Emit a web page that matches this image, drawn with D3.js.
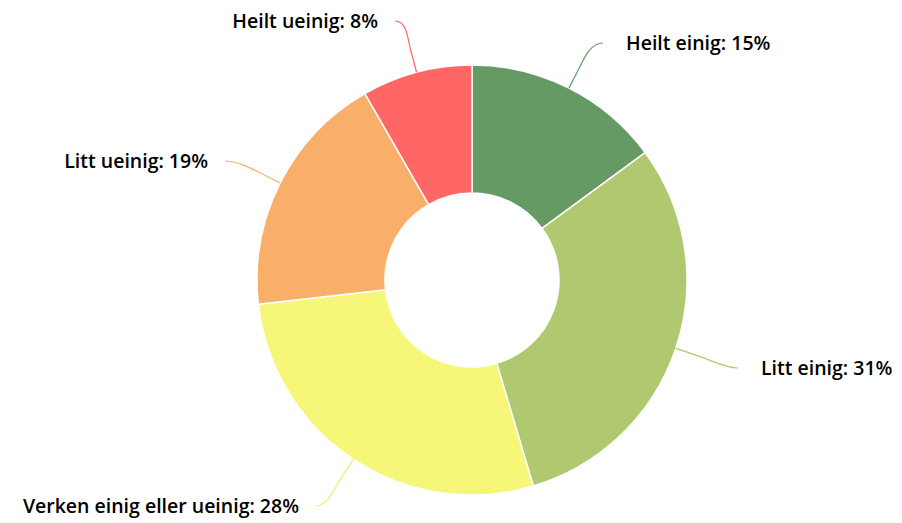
<!DOCTYPE html>
<html><head><meta charset="utf-8">
<script src="https://cdn.jsdelivr.net/npm/d3@7"></script>
<style>html,body{margin:0;padding:0;background:#fff;}svg{display:block;}</style>
</head><body><div id="chart"></div>
<script>
const categories = ["Heilt einig", "Litt einig", "Verken einig eller ueinig", "Litt ueinig", "Heilt ueinig"];
// estimated underlying shares (labels show rounded percentages)
const values = [14.9, 30.5, 27.8, 18.5, 8.3];
const colors = ["#659a65", "#b0c970", "#f6f779", "#f9ae6a", "#ff6666"];
// label anchor positions (connector end) and alignment
const labelSide = ["left", "left", "right", "right", "right"];
const labelPos = [[603, 43], [738, 368], [316, 506], [225, 161], [395, 21]];

const W = 902, H = 523, cx = 472, cy = 280, R = 215, r0 = 87;
const svg = d3.select("#chart").append("svg").attr("width", W).attr("height", H);
const g = svg.append("g").attr("transform", `translate(${cx},${cy})`);
const pie = d3.pie().sort(null).value(d => d)(values);
const arc = d3.arc().innerRadius(r0).outerRadius(R);

g.selectAll("path.slice").data(pie).join("path")
  .attr("class", "slice")
  .attr("d", arc)
  .attr("fill", (d, i) => colors[i])
  .attr("stroke", "#fff").attr("stroke-width", 1.5).attr("stroke-linejoin", "round");

// connectors
pie.forEach((d, i) => {
  const a = (d.startAngle + d.endAngle) / 2;
  const ex = cx + R * Math.sin(a), ey = cy - R * Math.cos(a);
  const [lx, ly] = labelPos[i];
  const mx = cx + (R + 22) * Math.sin(a), my = cy - (R + 22) * Math.cos(a);
  const dir = labelSide[i] === "left" ? -1 : 1;
  const p = d3.path();
  p.moveTo(lx, ly);
  p.bezierCurveTo(lx + dir * 12, ly, mx + (mx - ex) * 0.6, my + (my - ey) * 0.6, mx, my);
  p.lineTo(ex, ey);
  svg.append("path").attr("d", p.toString()).attr("fill", "none")
    .attr("stroke", colors[i] === "#f6f779" ? "#eeee66" : colors[i]).attr("stroke-width", 1.2);
  svg.append("text")
    .attr("x", labelSide[i] === "left" ? lx + 23 : lx - 17)
    .attr("y", ly + 7)
    .attr("text-anchor", labelSide[i] === "left" ? "start" : "end")
    .attr("font-family", "'Open Sans', sans-serif")
    .attr("font-weight", 600)
    .attr("font-size", 19.5)
    .attr("fill", "#000")
    .text(`${categories[i]}: ${Math.round(values[i])}%`);
});
</script></body></html>
